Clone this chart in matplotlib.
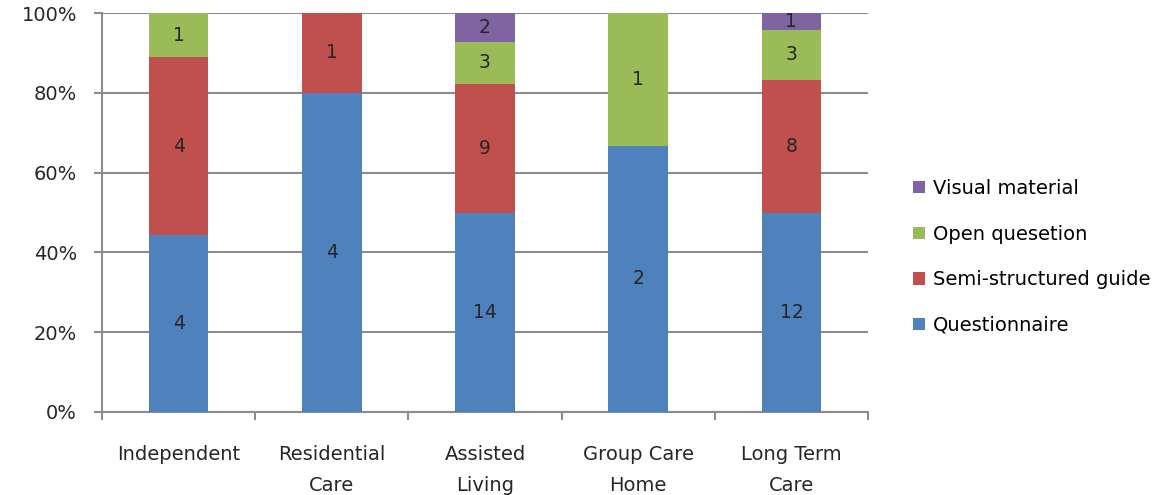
import numpy as np
import matplotlib.pyplot as plt

categories = ["Independent", "Residential\nCare", "Assisted\nLiving", "Group Care\nHome", "Long Term\nCare"]
series_names = ["Questionnaire", "Semi-structured guide", "Open quesetion", "Visual material"]
questionnaire = [4, 4, 14, 2, 12]
semi_structured = [4, 1, 9, 0, 8]
open_question = [1, 0, 3, 1, 3]
visual_material = [0, 0, 2, 0, 1]
colors = ["#4F81BD", "#C0504D", "#9BBB59", "#8064A2"]

plt.rcParams['font.family'] = ['DejaVu Sans']
fs = 14
txt = "#262626"

counts = np.array([questionnaire, semi_structured, open_question, visual_material], dtype=float)
totals = counts.sum(axis=0)
shares = counts / totals * 100

fig = plt.figure(figsize=(11.55, 4.95), dpi=100)
ax = fig.add_axes([0.0883, 0.1677, 0.6632, 0.806])

x = np.arange(len(categories))
bottom = np.zeros(len(categories))
handles = []
for i, name in enumerate(series_names):
    bars = ax.bar(x, shares[i], 0.39, bottom=bottom, color=colors[i], label=name, zorder=3)
    handles.append(bars)
    # count labels in the middle of each segment
    for j in range(len(categories)):
        if counts[i, j] > 0:
            ax.text(x[j], bottom[j] + shares[i, j] / 2, f"{int(counts[i, j])}",
                    ha="center", va="center", fontsize=13.5, color=txt, zorder=4)
    bottom += shares[i]

ax.set_xlim(-0.5, len(categories) - 0.5)
ax.set_ylim(0, 100)
ax.set_yticks(np.arange(0, 101, 20))
ax.set_yticklabels([f"{v}%" for v in range(0, 101, 20)], fontsize=fs, color=txt)
ax.yaxis.grid(True, color="#8c8c8c", linewidth=1.5, zorder=0)
ax.set_xticks(x)
ax.set_xticklabels(categories, fontsize=fs, color=txt, linespacing=1.8, va="top")
ax.set_xticks(np.arange(-0.5, len(categories)), minor=True)
ax.tick_params(axis="x", which="major", length=0, pad=24)
ax.tick_params(axis="x", which="minor", length=6, width=1.5, color="#8c8c8c", direction="out")
ax.tick_params(axis="y", length=6, width=1.5, color="#8c8c8c", pad=12)
for side in ["top", "right"]:
    ax.spines[side].set_visible(False)
for side in ["left", "bottom"]:
    ax.spines[side].set_color("#8c8c8c")
    ax.spines[side].set_linewidth(1.5)

fig.legend(handles[::-1], series_names[::-1], loc="upper left", bbox_to_anchor=(0.784, 0.654),
           frameon=False, fontsize=fs, handlelength=0.6, handleheight=0.6,
           handletextpad=0.4, labelspacing=1.37, borderaxespad=0)

fig.savefig("out.png", dpi=100)
